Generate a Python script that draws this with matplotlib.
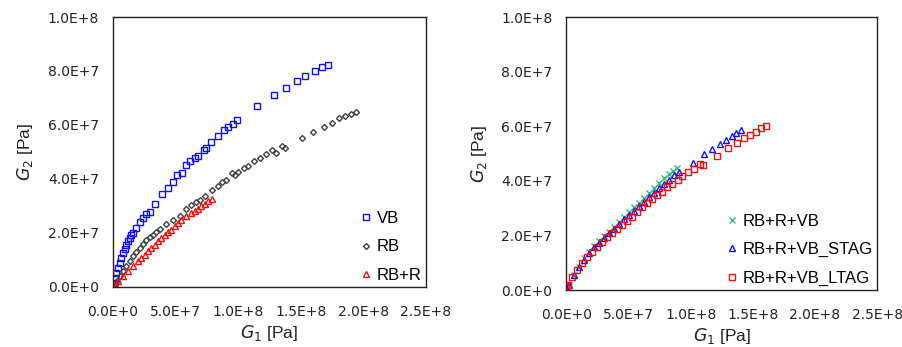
import matplotlib.pyplot as plt
from matplotlib.ticker import FuncFormatter

# values in units of 1e6 Pa
vb_g1 = [0, 0.5, 1.3, 2.7, 4.0, 5.3, 6.7, 8.0, 9.3, 10.7, 12.0, 13.3, 14.7, 16.0, 18.1, 21.3,
         24.0, 26.7, 29.3, 33.9, 39.5, 44.0, 48.0, 51.5, 55.0, 58.7, 61.9, 65.4, 68.3,
         72.6, 74.7, 78.4, 84.3, 88.8, 92.3, 96.0, 99.0, 115.0, 128.6, 138.2, 146.7,
         153.4, 161.1, 166.8, 172.1]
vb_g2 = [0, 1.5, 3.3, 5.2, 7.0, 8.9, 10.7, 12.6, 14.1, 15.7, 16.9, 18.2, 19.1, 20.0, 21.9, 24.0,
         25.6, 27.0, 27.9, 30.9, 34.3, 36.7, 39.0, 41.4, 42.2, 45.1, 46.7, 47.7, 48.4,
         50.9, 51.4, 53.7, 56.0, 58.0, 59.1, 60.5, 61.7, 67.0, 71.0, 73.7, 76.4,
         78.1, 80.1, 81.4, 82.1]

rb_g1 = [0, 1.3, 3.2, 5.3, 8.0, 10.7, 13.3, 16.0, 18.7, 21.3, 24.0, 26.7, 29.3, 32.0, 34.7,
         37.4, 42.7, 48.0, 53.4, 58.7, 62.7, 66.7, 69.4, 73.4, 79.0, 84.0, 87.5, 90.7,
         95.5, 97.9, 100.1, 104.9, 108.1, 113.1, 117.4, 122.7, 127.5, 130.2, 134.7,
         137.4, 150.7, 160.1, 168.6, 175.0, 180.9, 185.4, 190.0, 194.2]
rb_g2 = [0, 0.9, 2.3, 4.0, 5.8, 7.7, 9.5, 11.4, 13.0, 14.4, 15.9, 17.3, 18.4, 19.4, 20.4,
         21.5, 23.5, 24.7, 26.4, 28.7, 30.5, 31.4, 32.4, 33.8, 36.1, 37.3, 38.8, 39.8,
         42.2, 41.4, 42.7, 44.2, 44.7, 46.8, 47.9, 49.4, 50.6, 49.6, 52.1,
         51.5, 55.2, 57.3, 59.2, 60.9, 62.6, 63.5, 64.1, 64.8]

rbr_g1 = [0, 1.3, 4.0, 8.0, 12.0, 16.0, 20.0, 22.7, 25.3, 28.0, 30.7, 33.4, 36.0, 38.7, 41.4,
          44.0, 46.7, 49.4, 52.0, 54.7, 58.7, 62.7, 65.4, 68.3, 70.7, 73.4, 76.0, 79.0]
rbr_g2 = [0, 0.6, 2.1, 4.0, 5.8, 7.7, 9.5, 10.7, 12.0, 13.2, 14.4, 15.7, 16.9, 18.2, 19.4,
          20.4, 21.2, 22.5, 23.7, 24.7, 26.2, 27.3, 28.2, 28.9, 29.9, 30.9, 31.9, 32.6]

vbmix_g1 = [0.8, 2.1, 6.2, 10.2, 14.2, 18.2, 22.2, 26.2, 30.2, 34.2, 38.2, 42.2, 46.3, 50.3,
            54.3, 58.3, 62.3, 66.3, 70.3, 74.3, 78.3, 82.4, 85.8, 89.0]
vbmix_g2 = [0.2, 1.8, 5.5, 8.6, 11.6, 14.1, 16.1, 18.1, 19.8, 21.4, 23.2, 25.1, 26.9, 28.5,
            30.3, 31.8, 33.6, 35.4, 37.3, 39.1, 40.9, 42.5, 43.7, 44.6]

stag_g1 = [0.8, 2.1, 6.2, 10.2, 14.2, 18.2, 22.2, 26.2, 30.2, 34.2, 38.2, 42.2, 46.3, 50.3,
           54.3, 58.3, 62.3, 66.3, 70.3, 74.3, 78.3, 82.4, 86.4, 90.4, 101.9, 111.0,
           117.1, 123.3, 128.1, 133.2, 136.6, 140.7]
stag_g2 = [0.2, 1.8, 5.5, 8.6, 11.2, 13.7, 15.6, 17.4, 19.1, 20.8, 22.5, 24.2, 25.9, 27.5,
           29.1, 30.8, 32.4, 34.0, 35.7, 37.3, 38.9, 40.3, 42.2, 43.4, 46.4, 49.7,
           51.7, 53.5, 55.0, 56.5, 57.7, 58.7]

ltag_g1 = [0, 1.3, 4.8, 8.8, 12.8, 16.8, 20.9, 24.9, 28.9, 32.9, 36.9, 40.9, 44.9, 48.9,
           52.9, 57.0, 61.0, 65.0, 69.0, 73.0, 77.0, 81.0, 85.0, 89.6, 93.1, 97.6, 102.4,
           107.8, 109.9, 121.1, 129.7, 137.2, 143.1, 147.9, 152.7, 156.7, 160.7]
ltag_g2 = [1.0, 1.8, 4.9, 7.3, 9.8, 12.2, 14.1, 15.9, 17.5, 19.3, 20.8, 22.2, 23.8, 25.4,
           26.9, 28.5, 30.3, 31.8, 33.2, 34.8, 36.0, 37.6, 38.9, 40.3, 41.9, 43.3, 44.2,
           46.2, 45.9, 49.2, 51.9, 53.8, 55.6, 56.8, 58.0, 59.3, 60.2]

x_ticks = [0, 5e7, 1e8, 1.5e8, 2e8, 2.5e8]
y_ticks = [0, 2e7, 4e7, 6e7, 8e7, 1e8]


def sci(v, pos):
    if v == 0:
        return '0.0E+0'
    s = '%.1E' % v
    m, e = s.split('E')
    return m + 'E+' + str(int(e))


def scale(a):
    return [v * 1e6 for v in a]


def style_ax(ax):
    ax.set_xlim(0, 2.5e8)
    ax.set_ylim(0, 1e8)
    ax.set_xticks(x_ticks)
    ax.set_yticks(y_ticks)
    ax.xaxis.set_major_formatter(FuncFormatter(sci))
    ax.yaxis.set_major_formatter(FuncFormatter(sci))
    ax.tick_params(length=0, labelsize=10, colors='#222222')
    ax.tick_params(axis='x', pad=13)
    ax.tick_params(axis='y', pad=10)
    for sp in ax.spines.values():
        sp.set_color('#222222')
        sp.set_linewidth(1.0)
    ax.set_xlabel(r'$\mathit{G}_{\mathit{1}}$ [Pa]', fontsize=12.5, color='#222222', labelpad=3,
                  family='Liberation Sans')
    ax.set_ylabel(r'$\mathit{G}_{\mathit{2}}$ [Pa]', fontsize=12.5, color='#222222', labelpad=9,
                  family='Liberation Sans')


def add_legend(ax):
    ax.legend(loc='lower right', frameon=False, prop={'family': 'Liberation Sans', 'size': 12},
              handletextpad=0.3, handlelength=0.7, borderaxespad=0.0, borderpad=0.25,
              labelspacing=0.8)


fig = plt.figure(figsize=(9.03, 3.47), dpi=100)
ax1 = fig.add_axes([0.125, 0.173, 0.3466, 0.778])
ax2 = fig.add_axes([0.627, 0.164, 0.3444, 0.787])

ax1.plot(scale(vb_g1), scale(vb_g2), 's', ms=4.5, mfc='none', mec='#1010ee', mew=1, label='VB')
ax1.plot(scale(rb_g1), scale(rb_g2), 'D', ms=3, mfc='none', mec='#404040', mew=1, label='RB')
ax1.plot(scale(rbr_g1), scale(rbr_g2), '^', ms=4, mfc='none', mec='#ee1010', mew=1, label='RB+R')
style_ax(ax1)
add_legend(ax1)

ax2.plot(scale(vbmix_g1), scale(vbmix_g2), 'x', ms=4.5, color='#33bb77', mew=1, label='RB+R+VB')
ax2.plot(scale(stag_g1), scale(stag_g2), '^', ms=4, mfc='none', mec='#1010ee', mew=1, label='RB+R+VB_STAG')
ax2.plot(scale(ltag_g1), scale(ltag_g2), 's', ms=4.5, mfc='none', mec='#ee1010', mew=1, label='RB+R+VB_LTAG')
style_ax(ax2)
add_legend(ax2)

fig.savefig('out.png', dpi=100)
